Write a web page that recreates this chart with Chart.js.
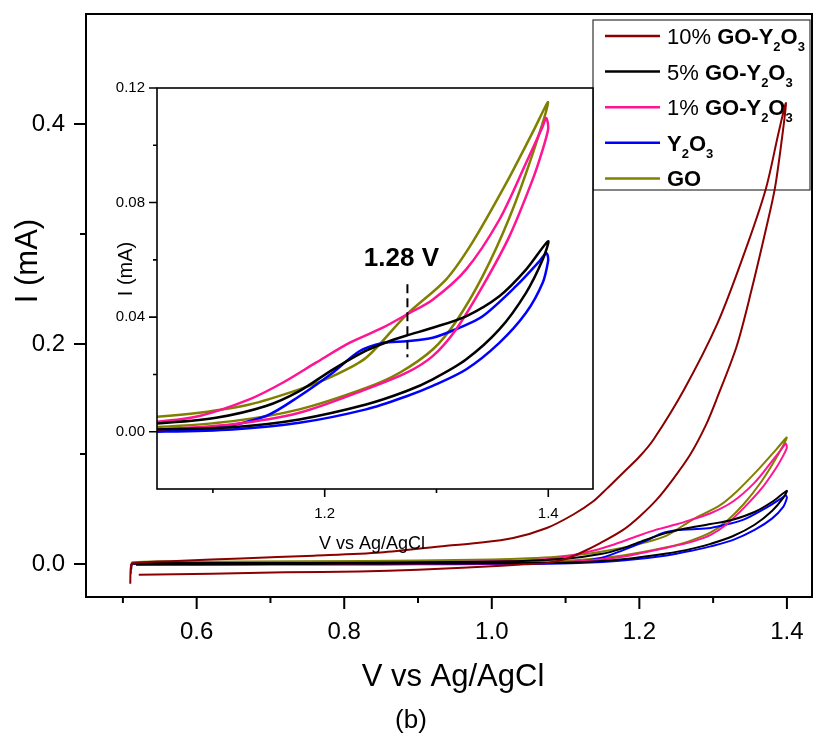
<!DOCTYPE html>
<html>
<head>
<meta charset="utf-8">
<script src="https://cdn.jsdelivr.net/npm/chart.js@4.4.1/dist/chart.umd.min.js"></script>
<style>
  html, body { margin: 0; padding: 0; background: #fff; }
  #wrap { position: relative; width: 814px; height: 737px; overflow: hidden; }
  canvas { position: absolute; display: block; }
  #mainChart { left: 0; top: 0; }
  #insetChart { left: 100px; top: 80px; }
</style>
</head>
<body>
<div id="wrap">
  <canvas id="mainChart" width="814" height="737"></canvas>
  <canvas id="insetChart" width="500" height="480"></canvas>
</div>
<script>
// CV loops: potential (V vs Ag/AgCl) and current (mA)
// each loop = forward scan up to 1.4 V, then the return scan
const go10V = [0.5215, 0.62, 0.72, 0.82, 0.90, 0.96, 1.013, 1.045, 1.075, 1.10, 1.12, 1.147, 1.178, 1.20, 1.2235, 1.245, 1.2686, 1.29, 1.3048, 1.3319, 1.352, 1.3725, 1.3838, 1.3929, 1.3987,
               1.389, 1.371, 1.3407, 1.306, 1.2605, 1.219, 1.20, 1.178, 1.156, 1.1376, 1.1105, 1.0745, 1.029, 0.98, 0.939, 0.849, 0.759, 0.66, 0.58, 0.515, 0.511, 0.510];
const go10I = [-0.0097, -0.0088, -0.0076, -0.0068, -0.0052, -0.0035, -0.0015, -0.0003, 0.0008, 0.0045, 0.010, 0.019, 0.031, 0.043, 0.0585, 0.0765, 0.099, 0.126, 0.150, 0.198, 0.249, 0.307, 0.342, 0.385, 0.419,
               0.393, 0.340, 0.2796, 0.219, 0.1585, 0.113, 0.0975, 0.083, 0.0685, 0.057, 0.045, 0.0327, 0.0236, 0.019, 0.0166, 0.0105, 0.0076, 0.005, 0.003, 0.001, -0.002, -0.018];

const go5V = [0.518, 0.60, 0.70, 0.80, 0.90, 1.00, 1.0497, 1.1177, 1.1773, 1.2370, 1.2733, 1.2966, 1.3264, 1.3562, 1.3801, 1.3950, 1.3998,
              1.3801, 1.3562, 1.3264, 1.2966, 1.2733, 1.2578, 1.2370, 1.2072, 1.1773, 1.1475, 1.1028, 1.0497, 1.00, 0.90, 0.75, 0.60, 0.513, 0.511];
const go5I = [-0.0003, -0.0002, 0.0, 0.0002, 0.0004, 0.0006, 0.0008, 0.0016, 0.0043, 0.0095, 0.0142, 0.0183, 0.0252, 0.0357, 0.0485, 0.0601, 0.0665,
              0.0566, 0.0473, 0.0403, 0.0363, 0.0336, 0.0316, 0.0283, 0.0217, 0.0142, 0.0090, 0.0049, 0.0029, 0.0022, 0.0015, 0.0010, 0.0008, 0.0005, -0.005];

const go1V = [0.518, 0.60, 0.70, 0.80, 0.90, 1.00, 1.0497, 1.1177, 1.1773, 1.2370, 1.2733, 1.2966, 1.3175, 1.3413, 1.3652, 1.3860, 1.3950, 1.3998, 1.3995,
              1.3980, 1.3950, 1.3801, 1.3562, 1.3264, 1.2966, 1.2733, 1.2519, 1.2221, 1.1922, 1.1624, 1.1326, 1.0879, 1.0497, 1.00, 0.90, 0.75, 0.60, 0.513, 0.511];
const go1I = [-0.0005, -0.0003, 0.0, 0.0001, 0.0003, 0.0005, 0.0008, 0.0026, 0.0066, 0.0148, 0.0206, 0.0264, 0.0357, 0.0508, 0.0682, 0.0880, 0.0985, 0.1054, 0.1080,
              0.1095, 0.1066, 0.0938, 0.0740, 0.0566, 0.0461, 0.0409, 0.0363, 0.0310, 0.0241, 0.0171, 0.0113, 0.0055, 0.0035, 0.0025, 0.0015, 0.0010, 0.0008, 0.0005, -0.009];

const y2o3V = [0.518, 0.60, 0.70, 0.80, 0.90, 1.00, 1.0497, 1.1177, 1.1773, 1.2370, 1.2733, 1.2966, 1.3264, 1.3562, 1.3801, 1.3950, 1.3998, 1.3995,
               1.3980, 1.3920, 1.3711, 1.3413, 1.3205, 1.2966, 1.2733, 1.2519, 1.2310, 1.2072, 1.1773, 1.1475, 1.1028, 1.0497, 1.00, 0.90, 0.75, 0.60, 0.513, 0.511];
const y2o3I = [-0.0008, -0.0007, -0.0005, -0.0004, -0.0003, -0.0001, 0.0, 0.0008, 0.0031, 0.0078, 0.0124, 0.0160, 0.0217, 0.0310, 0.0415, 0.0520, 0.0595, 0.0615,
               0.0624, 0.0595, 0.0508, 0.0403, 0.0363, 0.0328, 0.0316, 0.0310, 0.0281, 0.0206, 0.0124, 0.0055, 0.0014, 0.0006, 0.0004, 0.0003, 0.0002, 0.0002, 0.0, -0.006];

const goV = [0.518, 0.60, 0.70, 0.80, 0.90, 1.00, 1.0497, 1.1177, 1.1773, 1.2370, 1.2670, 1.2966, 1.3175, 1.3413, 1.3650, 1.3860, 1.3998,
             1.3860, 1.3620, 1.3320, 1.3085, 1.2733, 1.2370, 1.2072, 1.1773, 1.1326, 1.0879, 1.0497, 1.00, 0.90, 0.75, 0.60, 0.513, 0.511];
const goI = [0.0, 0.0001, 0.0003, 0.0005, 0.0008, 0.0012, 0.0016, 0.0037, 0.0078, 0.0153, 0.0206, 0.0287, 0.0385, 0.0543, 0.0745, 0.0970, 0.1150,
             0.1045, 0.0865, 0.0660, 0.0531, 0.0409, 0.0258, 0.0194, 0.0148, 0.0095, 0.0066, 0.0052, 0.0042, 0.0032, 0.0025, 0.0020, 0.0015, -0.003];

const seriesNames = ['10% GO-Y2O3', '5% GO-Y2O3', '1% GO-Y2O3', 'Y2O3', 'GO'];
const seriesColors = ['#8b0000', '#000000', '#ff1493', '#0000ff', '#808000'];

// axis ticks
const mainXTicks = [0.5, 0.6, 0.7, 0.8, 0.9, 1.0, 1.1, 1.2, 1.3, 1.4];
const mainXLabels = ['', '0.6', '', '0.8', '', '1.0', '', '1.2', '', '1.4'];
const mainYTicks = [0, 0.1, 0.2, 0.3, 0.4];
const mainYLabels = ['0.0', '', '0.2', '', '0.4'];
const insetXTicks = [1.1, 1.2, 1.3, 1.4];
const insetXLabels = ['', '1.2', '', '1.4'];
const insetYTicks = [0, 0.02, 0.04, 0.06, 0.08, 0.10, 0.12];
const insetYLabels = ['0.00', '', '0.04', '', '0.08', '', '0.12'];

// peak marker in the inset
const peakText = '1.28 V';
const peakV = 1.274;
const peakFrom = 0.026, peakTo = 0.0515;

const FONT = "Arial, 'Liberation Sans', sans-serif";

const seriesV = [go10V, go5V, go1V, y2o3V, goV];
const seriesI = [go10I, go5I, go1I, y2o3I, goI];

function toPoints(v, cur) {
  return v.map((x, k) => ({ x: x, y: cur[k] }));
}

function makeDatasets(which, width) {
  return which.map(k => ({
    data: toPoints(seriesV[k], seriesI[k]),
    borderColor: seriesColors[k],
    borderWidth: width,
    showLine: true,
    pointRadius: 0,
    tension: 0.3,
    fill: false
  }));
}

// box + outward ticks, Origin style
const axisFrame = {
  id: 'axisFrame',
  beforeDraw(chart, args, o) {
    if (!o.fill) return;
    const a = chart.chartArea, ctx = chart.ctx;
    ctx.save();
    ctx.fillStyle = o.fill;
    ctx.fillRect(a.left, a.top, a.right - a.left, a.bottom - a.top);
    ctx.restore();
  },
  afterDatasetsDraw(chart, args, o) {
    const { ctx, chartArea: a, scales } = chart;
    ctx.save();
    ctx.strokeStyle = '#000';
    ctx.lineWidth = o.width;
    ctx.strokeRect(a.left, a.top, a.right - a.left, a.bottom - a.top);
    ctx.beginPath();
    scales.x.ticks.forEach(t => {
      const px = scales.x.getPixelForValue(t.value);
      ctx.moveTo(px, a.bottom);
      ctx.lineTo(px, a.bottom + (t.label ? o.major : o.minor));
    });
    scales.y.ticks.forEach(t => {
      const py = scales.y.getPixelForValue(t.value);
      ctx.moveTo(a.left, py);
      ctx.lineTo(a.left - (t.label ? o.major : o.minor), py);
    });
    ctx.stroke();
    ctx.restore();
  }
};

// free text (axis titles etc.)
const freeText = {
  id: 'freeText',
  afterDraw(chart, args, o) {
    const ctx = chart.ctx;
    (o.items || []).forEach(it => {
      ctx.save();
      ctx.fillStyle = '#000';
      ctx.font = it.font;
      ctx.textAlign = 'center';
      ctx.textBaseline = 'alphabetic';
      ctx.translate(it.x, it.y);
      if (it.rotate) ctx.rotate(it.rotate);
      ctx.fillText(it.text, 0, 0);
      ctx.restore();
    });
  }
};

// writes "10% GO-Y2O3" with subscripts
function drawName(ctx, name, x, y) {
  let pre = '', rest = name;
  const m = name.match(/^(\d+% )(.*)$/);
  if (m) { pre = m[1]; rest = m[2]; }
  ctx.textAlign = 'left';
  ctx.textBaseline = 'alphabetic';
  if (pre) {
    ctx.font = '22px ' + FONT;
    ctx.fillText(pre, x, y);
    x += ctx.measureText(pre).width;
  }
  for (const ch of rest) {
    if (/\d/.test(ch)) {
      ctx.font = 'bold 13px ' + FONT;
      ctx.fillText(ch, x, y + 7);
    } else {
      ctx.font = 'bold 22px ' + FONT;
      ctx.fillText(ch, x, y);
    }
    x += ctx.measureText(ch).width;
  }
}

const boxLegend = {
  id: 'boxLegend',
  beforeDatasetsDraw(chart, args, o) {
    const ctx = chart.ctx;
    ctx.save();
    ctx.fillStyle = '#fff';
    ctx.fillRect(o.left, o.top, o.width, o.height);
    ctx.strokeStyle = '#333';
    ctx.lineWidth = 1.2;
    ctx.strokeRect(o.left, o.top, o.width, o.height);
    seriesNames.forEach((name, k) => {
      const y = o.top + o.first + k * o.step;
      ctx.strokeStyle = seriesColors[k];
      ctx.lineWidth = 2.5;
      ctx.beginPath();
      ctx.moveTo(o.left + 12, y);
      ctx.lineTo(o.left + 67, y);
      ctx.stroke();
      ctx.fillStyle = '#000';
      drawName(ctx, name, o.left + 74, y + 8);
    });
    ctx.restore();
  }
};

const peakMark = {
  id: 'peakMark',
  afterDatasetsDraw(chart) {
    const { ctx, scales } = chart;
    const px = scales.x.getPixelForValue(peakV);
    const y1 = scales.y.getPixelForValue(peakTo);
    const y2 = scales.y.getPixelForValue(peakFrom);
    ctx.save();
    ctx.strokeStyle = '#000';
    ctx.lineWidth = 2;
    ctx.setLineDash([9, 5]);
    ctx.beginPath();
    ctx.moveTo(px, y1);
    ctx.lineTo(px, y2);
    ctx.stroke();
    ctx.setLineDash([]);
    ctx.fillStyle = '#000';
    ctx.font = 'bold 26px ' + FONT;
    ctx.textAlign = 'center';
    ctx.textBaseline = 'alphabetic';
    ctx.fillText(peakText, px - 6, y1 - 18);
    ctx.restore();
  }
};

function axis(min, max, ticks, labels, size, pad, fitKey, fitVal) {
  return {
    type: 'linear',
    min: min,
    max: max,
    grid: { display: false, drawTicks: false },
    border: { display: false },
    afterBuildTicks: s => { s.ticks = ticks.map(v => ({ value: v })); },
    afterFit: s => {
      s[fitKey] = fitVal;
      s.paddingTop = 0; s.paddingBottom = 0; s.paddingLeft = 0; s.paddingRight = 0;
    },
    ticks: {
      autoSkip: false,
      maxRotation: 0,
      padding: pad,
      color: '#000',
      font: { family: FONT, size: size },
      callback: (v, k) => labels[k]
    }
  };
}

new Chart(document.getElementById('mainChart'), {
  type: 'scatter',
  data: { datasets: makeDatasets([0, 1, 2, 3, 4], 2) },
  options: {
    responsive: false,
    devicePixelRatio: 1,
    animation: false,
    events: [],
    layout: { padding: { left: 0, top: 14, right: 2, bottom: 0 } },
    scales: {
      x: axis(0.45, 1.434, mainXTicks, mainXLabels, 24, 21, 'height', 140),
      y: axis(-0.03, 0.5, mainYTicks, mainYLabels, 24, 21, 'width', 86)
    },
    plugins: {
      legend: { display: false },
      tooltip: { enabled: false },
      axisFrame: { width: 2, major: 12, minor: 6 },
      boxLegend: { left: 593, top: 20, width: 217, height: 170, first: 16, step: 35.6 },
      freeText: {
        items: [
          { text: 'V vs Ag/AgCl', x: 453, y: 686, font: '31px ' + FONT },
          { text: '(b)', x: 411, y: 728, font: '26px ' + FONT },
          { text: 'I (mA)', x: 37, y: 261, font: '31px ' + FONT, rotate: -Math.PI / 2 }
        ]
      }
    }
  },
  plugins: [axisFrame, boxLegend, freeText]
});

new Chart(document.getElementById('insetChart'), {
  type: 'scatter',
  data: { datasets: makeDatasets([1, 2, 3, 4], 2.5) },
  options: {
    responsive: false,
    devicePixelRatio: 1,
    animation: false,
    events: [],
    layout: { padding: { left: 0, top: 8, right: 7, bottom: 0 } },
    scales: {
      x: axis(1.05, 1.44, insetXTicks, insetXLabels, 15, 16, 'height', 71),
      y: axis(-0.02, 0.12, insetYTicks, insetYLabels, 15, 12, 'width', 57)
    },
    plugins: {
      legend: { display: false },
      tooltip: { enabled: false },
      axisFrame: { width: 1.6, major: 8, minor: 4, fill: '#fff' },
      freeText: {
        items: [
          { text: 'V vs Ag/AgCl', x: 272, y: 469, font: '18px ' + FONT },
          { text: 'I (mA)', x: 32, y: 189, font: '20px ' + FONT, rotate: -Math.PI / 2 }
        ]
      }
    }
  },
  plugins: [axisFrame, peakMark, freeText]
});
</script>
</body>
</html>
